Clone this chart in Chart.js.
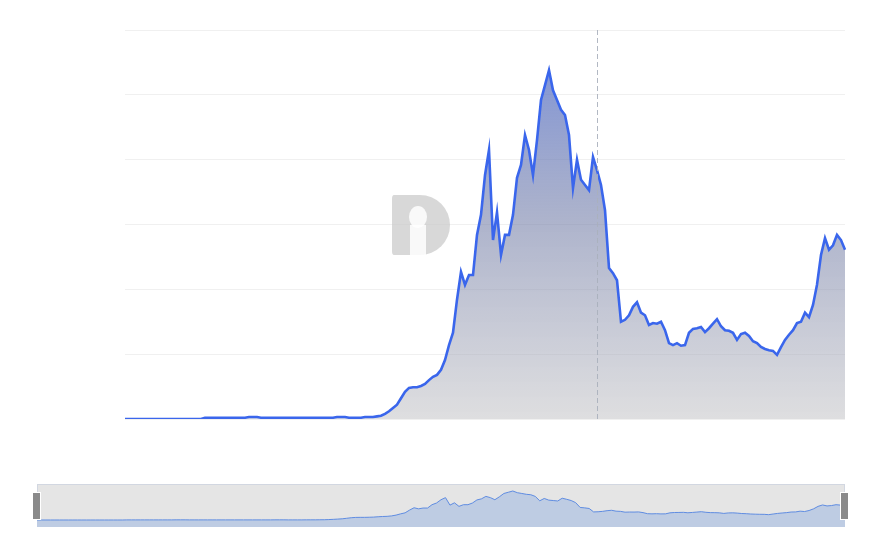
<!DOCTYPE html>
<html>
<head>
<meta charset="utf-8">
<script src="https://cdn.jsdelivr.net/npm/chart.js@4/dist/chart.umd.min.js"></script>
<style>
  html, body { margin: 0; padding: 0; background: #fff; }
  #wrap { position: relative; width: 874px; height: 540px; }
  #mainChart { position: absolute; left: 0; top: 0; }
  #navChart { position: absolute; left: 27px; top: 484px; }
</style>
</head>
<body>
<div id="wrap">
  <canvas id="mainChart" width="874" height="540"></canvas>
  <canvas id="navChart" width="828" height="43"></canvas>
</div>
<script>
// TVL series (one point every few days, units = grid steps)
const tvl = [
  0, 0, 0, 0, 0, 0, 0, 0, 0, 0,
  0, 0, 0, 0, 0, 0, 0, 0, 0, 0,
  0.02, 0.02, 0.02, 0.02, 0.02, 0.02, 0.02, 0.02, 0.02, 0.02,
  0.02, 0.03, 0.03, 0.03, 0.02, 0.02, 0.02, 0.02, 0.02, 0.02,
  0.02, 0.02, 0.02, 0.02, 0.02, 0.02, 0.02, 0.02, 0.02, 0.02,
  0.02, 0.02, 0.02, 0.03, 0.03, 0.03, 0.02, 0.02, 0.02, 0.02,
  0.03, 0.03, 0.03, 0.04,
  0.05, 0.08, 0.12, 0.17, 0.22, 0.32, 0.42, 0.48, 0.49, 0.49,
  0.51, 0.54, 0.60, 0.65, 0.68, 0.76, 0.91, 1.14, 1.33, 1.84,
  2.27, 2.07, 2.22, 2.22, 2.84, 3.15, 3.76, 4.15, 2.76, 3.19,
  2.53, 2.84, 2.84, 3.15, 3.72, 3.92, 4.38, 4.15, 3.76, 4.30,
  4.92, 5.15, 5.38, 5.07, 4.92, 4.77, 4.69, 4.38, 3.56, 4.00,
  3.69, 3.61, 3.53, 4.04, 3.84, 3.61, 3.22, 2.33, 2.25, 2.14,
  1.50, 1.53, 1.60, 1.73, 1.80, 1.64, 1.60, 1.45, 1.48, 1.47,
  1.50, 1.37, 1.17, 1.14, 1.17, 1.13, 1.14, 1.33, 1.39, 1.40,
  1.42, 1.34, 1.40, 1.47, 1.54, 1.43, 1.37, 1.36, 1.33, 1.22,
  1.31, 1.33, 1.28, 1.20, 1.17, 1.11, 1.08, 1.06, 1.05, 0.99,
  1.11, 1.22, 1.30, 1.37, 1.48, 1.50, 1.64, 1.57, 1.76, 2.07,
  2.53, 2.79, 2.61, 2.68, 2.84, 2.76, 2.61
];
const labels = tvl.map((_, i) => i);
const hoverIndex = 118; // where the crosshair sits

const lineColor = "rgb(58, 102, 236)";

// dashed crosshair + watermark
const extras = {
  id: "extras",
  beforeDatasetsDraw(chart) {
    const { ctx, chartArea } = chart;
    // watermark "D" with llama hint
    const cx = 420, cy = 225;
    ctx.save();
    ctx.fillStyle = "rgba(200, 200, 200, 0.7)";
    ctx.beginPath();
    ctx.moveTo(cx - 26, cy - 30);
    ctx.lineTo(cx, cy - 30);
    ctx.arc(cx, cy, 30, -Math.PI / 2, Math.PI / 2);
    ctx.lineTo(cx - 26, cy + 30);
    ctx.quadraticCurveTo(cx - 28, cy + 30, cx - 28, cy + 26);
    ctx.lineTo(cx - 28, cy - 26);
    ctx.quadraticCurveTo(cx - 28, cy - 30, cx - 26, cy - 30);
    ctx.fill();
    ctx.fillStyle = "rgba(255, 255, 255, 0.85)";
    ctx.beginPath();
    ctx.ellipse(cx - 2, cy - 8, 9, 11, 0, 0, Math.PI * 2);
    ctx.fill();
    ctx.fillRect(cx - 10, cy, 16, 30);
    ctx.restore();
  },
  afterDatasetsDraw(chart) {
    const { ctx, chartArea } = chart;
    const x = chart.scales.x.getPixelForValue(hoverIndex);
    ctx.save();
    ctx.strokeStyle = "rgba(170, 176, 188, 0.9)";
    ctx.lineWidth = 1;
    ctx.setLineDash([5, 3]);
    ctx.beginPath();
    ctx.moveTo(Math.round(x) + 0.5, chartArea.top);
    ctx.lineTo(Math.round(x) + 0.5, chartArea.bottom);
    ctx.stroke();
    ctx.restore();
  }
};

new Chart(document.getElementById("mainChart"), {
  type: "line",
  data: {
    labels,
    datasets: [{
      data: tvl,
      borderColor: lineColor,
      borderWidth: 2.6,
      pointRadius: 0,
      tension: 0,
      fill: "origin",
      backgroundColor: (context) => {
        const { ctx, chartArea } = context.chart;
        if (!chartArea) return "rgba(150,160,200,0.6)";
        const g = ctx.createLinearGradient(0, chartArea.top, 0, chartArea.bottom);
        g.addColorStop(0, "rgba(95, 122, 210, 0.85)");
        g.addColorStop(0.5, "rgba(120, 130, 170, 0.6)");
        g.addColorStop(1, "rgba(195, 195, 198, 0.55)");
        return g;
      },
    }],
  },
  options: {
    responsive: false,
    animation: false,
    layout: { padding: { left: 125, right: 29, top: 30, bottom: 121 } },
    plugins: { legend: { display: false }, tooltip: { enabled: false } },
    scales: {
      x: { display: false },
      y: {
        min: 0,
        max: 6,
        ticks: { display: false, stepSize: 1 },
        border: { display: false },
        grid: { color: "rgba(0, 0, 0, 0.06)", drawTicks: false },
      },
    },
  },
  plugins: [extras],
});

// navigator underneath
const navDeco = {
  id: "navDeco",
  beforeDatasetsDraw(chart) {
    const { ctx, chartArea } = chart;
    ctx.save();
    ctx.fillStyle = "rgb(229, 229, 229)";
    ctx.fillRect(chartArea.left, chartArea.top, chartArea.right - chartArea.left, chartArea.bottom - chartArea.top);
    ctx.strokeStyle = "rgba(210, 215, 225, 1)";
    ctx.strokeRect(chartArea.left + 0.5, chartArea.top + 0.5, chartArea.right - chartArea.left - 1, chartArea.bottom - chartArea.top - 1);
    ctx.restore();
  },
  afterDraw(chart) {
    const { ctx, chartArea } = chart;
    ctx.save();
    [chartArea.left, chartArea.right].forEach((hx) => {
      ctx.fillStyle = "#fff";
      ctx.fillRect(hx - 5, 8, 9, 28);
      ctx.fillStyle = "rgb(138, 138, 138)";
      ctx.fillRect(hx - 4, 9, 7, 26);
    });
    ctx.restore();
  }
};

new Chart(document.getElementById("navChart"), {
  type: "line",
  data: {
    labels,
    datasets: [{
      data: tvl,
      borderColor: "rgb(95, 140, 225)",
      borderWidth: 1,
      pointRadius: 0,
      tension: 0,
      fill: "start",
      backgroundColor: "rgb(190, 204, 227)",
    }],
  },
  options: {
    responsive: false,
    animation: false,
    layout: { padding: { left: 10, right: 10, top: 0, bottom: 0 } },
    plugins: { legend: { display: false }, tooltip: { enabled: false } },
    scales: {
      x: { display: false },
      y: { display: false, min: -1.3, max: 6.68 },
    },
  },
  plugins: [navDeco],
});
</script>
</body>
</html>
